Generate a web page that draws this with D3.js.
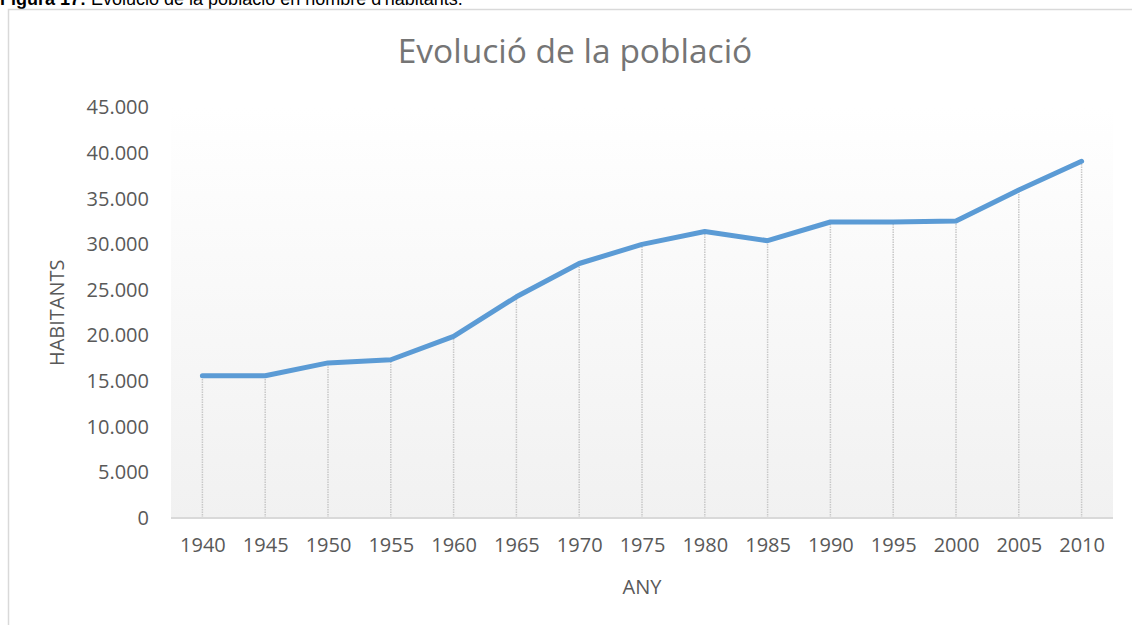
<!DOCTYPE html>
<html>
<head>
<meta charset="utf-8">
<title>Evolució de la població</title>
<script src="https://cdnjs.cloudflare.com/ajax/libs/d3/7.8.5/d3.min.js"></script>
<style>
    body { margin: 0; background: #fff; }
    text { font-family: "Open Sans", sans-serif; }
</style>
</head>
<body>
<div id="chart"></div>
<script>
    // data
    var years = ["1940", "1945", "1950", "1955", "1960", "1965", "1970", "1975",
                 "1980", "1985", "1990", "1995", "2000", "2005", "2010"];
    var habitants = [15600, 15600, 17000, 17350, 19900, 24250, 27900, 30000,
                     31400, 30400, 32450, 32450, 32550, 35950, 39100];
    var yTicks = [0, 5000, 10000, 15000, 20000, 25000, 30000, 35000, 40000, 45000];

    var width = 1132, height = 625;
    var margin = {left: 171, right: 19, top: 107.5, bottom: 107};

    var svg = d3.select("#chart").append("svg")
        .attr("width", width)
        .attr("height", height);

    // caption above the chart (cut at the top edge, as in the original page)
    var cap = svg.append("text")
        .attr("x", 0)
        .attr("y", 5)
        .style("font-family", "'Liberation Sans', Arial, sans-serif")
        .style("font-size", "18px")
        .attr("fill", "#000");
    cap.append("tspan").style("font-weight", "bold").text("Figura 17:");
    cap.append("tspan").text(" Evolució de la població en nombre d'habitants.");

    // chart frame
    svg.append("rect")
        .attr("x", 8.5).attr("y", 9.5)
        .attr("width", width).attr("height", height)
        .attr("fill", "none")
        .attr("stroke", "#d9d9d9")
        .attr("stroke-width", 1.5);

    var x = d3.scalePoint()
        .domain(years)
        .range([margin.left, width - margin.right])
        .padding(0.5);

    var y = d3.scaleLinear()
        .domain([0, 45000])
        .range([height - margin.bottom, margin.top]);

    // plot area gradient
    var grad = svg.append("defs").append("linearGradient")
        .attr("id", "bg")
        .attr("x1", 0).attr("y1", 0).attr("x2", 0).attr("y2", 1);
    grad.append("stop").attr("offset", "0%").attr("stop-color", "#ffffff");
    grad.append("stop").attr("offset", "100%").attr("stop-color", "#f1f1f1");

    svg.append("rect")
        .attr("x", margin.left)
        .attr("y", y(45000))
        .attr("width", width - margin.right - margin.left)
        .attr("height", y(0) - y(45000))
        .attr("fill", "url(#bg)");

    // title, centred on the chart frame
    svg.append("text")
        .attr("x", 575)
        .attr("y", 63)
        .attr("text-anchor", "middle")
        .style("font-size", "33.5px")
        .attr("fill", "#757575")
        .text("Evolució de la població");

    // drop lines
    svg.append("g").selectAll("line")
        .data(years)
        .enter().append("line")
        .attr("x1", function(d) { return x(d); })
        .attr("x2", function(d) { return x(d); })
        .attr("y1", y(0))
        .attr("y2", function(d, i) { return y(habitants[i]); })
        .attr("stroke", "#c8c8c8")
        .attr("stroke-width", 1.5)
        .attr("stroke-dasharray", "1.5,1");

    // x axis line
    svg.append("line")
        .attr("x1", margin.left).attr("x2", width - margin.right)
        .attr("y1", y(0)).attr("y2", y(0))
        .attr("stroke", "#d9d9d9")
        .attr("stroke-width", 2);

    var fmt = d3.formatLocale({decimal: ",", thousands: ".", grouping: [3], currency: ["", "€"]}).format(",d");

    // y axis labels
    var yAxis = svg.append("g")
        .attr("transform", "translate(" + margin.left + ",0)")
        .call(d3.axisLeft(y).tickValues(yTicks).tickFormat(fmt).tickSize(0).tickPadding(22));
    yAxis.select(".domain").remove();
    yAxis.selectAll("text")
        .style("font-family", "'Open Sans', sans-serif")
        .style("font-size", "20px")
        .attr("fill", "#595959");

    // x axis labels
    var xAxis = svg.append("g")
        .attr("transform", "translate(0," + y(0) + ")")
        .call(d3.axisBottom(x).tickSize(0).tickPadding(20));
    xAxis.select(".domain").remove();
    xAxis.selectAll("text")
        .style("font-family", "'Open Sans', sans-serif")
        .style("font-size", "20px")
        .attr("fill", "#595959");

    // axis titles
    svg.append("text")
        .attr("transform", "translate(64," + (y(22500)) + ") rotate(-90)")
        .attr("text-anchor", "middle")
        .style("font-size", "20px")
        .attr("fill", "#595959")
        .text("HABITANTS");

    svg.append("text")
        .attr("x", (margin.left + width - margin.right) / 2)
        .attr("y", 594)
        .attr("text-anchor", "middle")
        .style("font-size", "20px")
        .attr("fill", "#595959")
        .text("ANY");

    // the line
    var line = d3.line()
        .x(function(d, i) { return x(years[i]); })
        .y(function(d) { return y(d); });

    svg.append("path")
        .datum(habitants)
        .attr("d", line)
        .attr("fill", "none")
        .attr("stroke", "#5b9bd5")
        .attr("stroke-width", 5)
        .attr("stroke-linejoin", "round")
        .attr("stroke-linecap", "round");
</script>
</body>
</html>
